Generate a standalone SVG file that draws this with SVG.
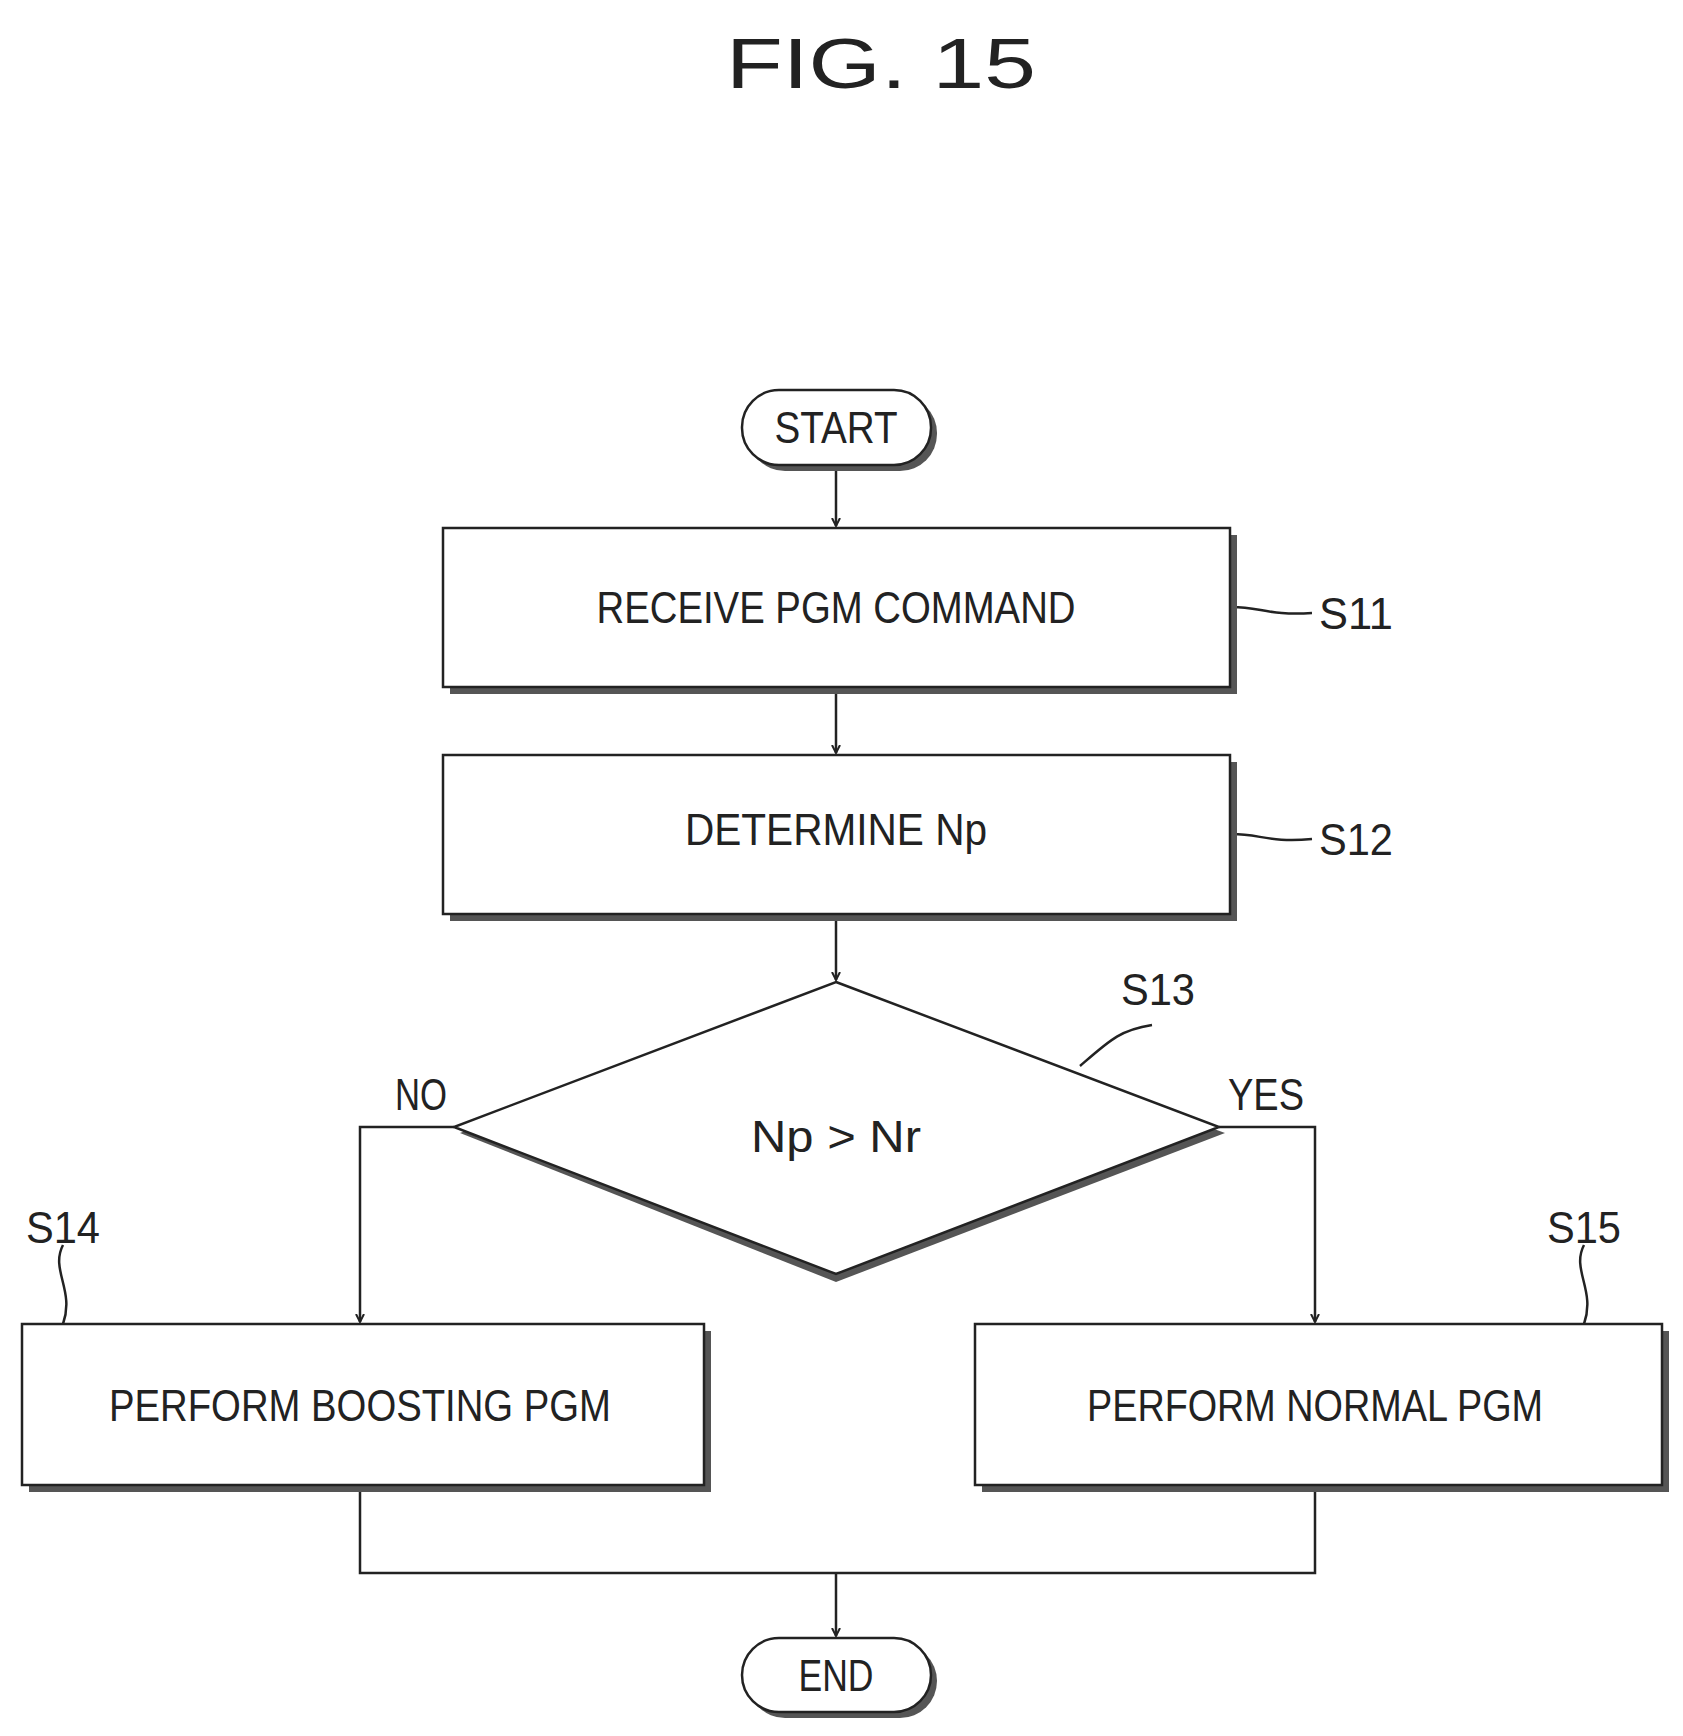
<svg xmlns="http://www.w3.org/2000/svg" width="1683" height="1736" viewBox="0 0 1683 1736">
<style>
.t{font-family:"Liberation Sans",Arial,sans-serif;fill:#222;text-anchor:middle}
.b{fill:#fff;stroke:#222;stroke-width:2.5}
.sh{fill:#555}
.c{fill:none;stroke:#222;stroke-width:2.5}
</style>
<defs><marker id="a" markerWidth="10" markerHeight="10" refX="8" refY="5" orient="auto" markerUnits="userSpaceOnUse"><path d="M0,1 L8,5 L0,9" fill="none" stroke="#222" stroke-width="2"/></marker></defs>
<rect width="1683" height="1736" fill="#fff"/>
<text class="t" x="881" y="88" font-size="70" textLength="310" lengthAdjust="spacingAndGlyphs">FIG. 15</text>
<g id="connectors">
<path class="c" d="M836,465 V526" marker-end="url(#a)"/>
<path class="c" d="M836,687 V753" marker-end="url(#a)"/>
<path class="c" d="M836,914 V980" marker-end="url(#a)"/>
<path class="c" d="M454,1127 H360 V1322" marker-end="url(#a)"/>
<path class="c" d="M1219,1127 H1315 V1322" marker-end="url(#a)"/>
<path class="c" d="M360,1485 V1573 H1315 V1485"/>
<path class="c" d="M836,1573 V1636" marker-end="url(#a)"/>
<path class="c" d="M1232,607 C1260,607 1270,616 1312,613"/>
<path class="c" d="M1232,834 C1260,834 1270,843 1312,839"/>
<path class="c" d="M1080,1066 C1110,1040 1120,1030 1152,1025"/>
<path class="c" d="M63,1245 C50,1270 75,1290 63,1324"/>
<path class="c" d="M1584,1245 C1571,1270 1596,1290 1584,1324"/>
</g>
<g id="start"><rect class="sh" x="748" y="396" width="189" height="75" rx="37"/><rect class="b" x="742" y="390" width="189" height="75" rx="37"/><text class="t" x="836" y="443" font-size="44" textLength="123" lengthAdjust="spacingAndGlyphs">START</text></g>
<g id="s11"><rect class="sh" x="450" y="535" width="787" height="159"/><rect class="b" x="443" y="528" width="787" height="159"/><text class="t" x="836" y="623" font-size="44" textLength="479" lengthAdjust="spacingAndGlyphs">RECEIVE PGM COMMAND</text><text class="t" x="1356" y="629" font-size="44" textLength="74" lengthAdjust="spacingAndGlyphs">S11</text></g>
<g id="s12"><rect class="sh" x="450" y="762" width="787" height="159"/><rect class="b" x="443" y="755" width="787" height="159"/><text class="t" x="836" y="845" font-size="44" textLength="302" lengthAdjust="spacingAndGlyphs">DETERMINE Np</text><text class="t" x="1356" y="855" font-size="44" textLength="74" lengthAdjust="spacingAndGlyphs">S12</text></g>
<g id="s13"><path class="sh" d="M836,990 L1225,1133 L836,1282 L460,1133Z"/><path class="b" d="M836,982 L1219,1127 L836,1274 L454,1127Z"/><text class="t" x="836" y="1152" font-size="44" textLength="170" lengthAdjust="spacingAndGlyphs">Np &gt; Nr</text><text class="t" x="1158" y="1005" font-size="44" textLength="74" lengthAdjust="spacingAndGlyphs">S13</text><text class="t" x="421" y="1110" font-size="44" textLength="52" lengthAdjust="spacingAndGlyphs">NO</text><text class="t" x="1266" y="1110" font-size="44" textLength="76" lengthAdjust="spacingAndGlyphs">YES</text></g>
<g id="s14"><rect class="sh" x="29" y="1331" width="682" height="161"/><rect class="b" x="22" y="1324" width="682" height="161"/><text class="t" x="360" y="1421" font-size="44" textLength="502" lengthAdjust="spacingAndGlyphs">PERFORM BOOSTING PGM</text><text class="t" x="63" y="1243" font-size="44" textLength="74" lengthAdjust="spacingAndGlyphs">S14</text></g>
<g id="s15"><rect class="sh" x="982" y="1331" width="687" height="161"/><rect class="b" x="975" y="1324" width="687" height="161"/><text class="t" x="1315" y="1421" font-size="44" textLength="456" lengthAdjust="spacingAndGlyphs">PERFORM NORMAL PGM</text><text class="t" x="1584" y="1243" font-size="44" textLength="74" lengthAdjust="spacingAndGlyphs">S15</text></g>
<g id="end"><rect class="sh" x="748" y="1644" width="189" height="74" rx="37"/><rect class="b" x="742" y="1638" width="189" height="74" rx="37"/><text class="t" x="836" y="1691" font-size="44" textLength="75" lengthAdjust="spacingAndGlyphs">END</text></g>
</svg>
